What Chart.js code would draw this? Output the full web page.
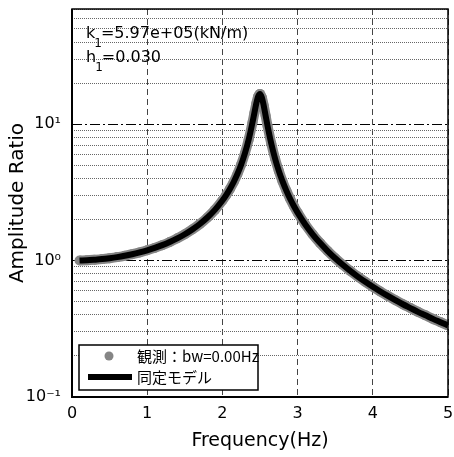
<!DOCTYPE html>
<html>
<head>
<meta charset="utf-8">
<script src="https://cdn.jsdelivr.net/npm/chart.js@4.4.1/dist/chart.umd.min.js"></script>
<style>
  html, body { margin: 0; padding: 0; background: #fff; }
  canvas { display: block; }
</style>
</head>
<body>
<canvas id="canvas" width="454" height="457"></canvas>
<script>
// frequency points (Hz), denser around the resonance
const freqHz = [
    0.1, 0.2, 0.3, 0.4, 0.5, 0.6, 0.7, 0.8, 0.9, 1.0,
    1.1, 1.2, 1.3, 1.4, 1.5, 1.6, 1.7, 1.8, 1.9, 2.0,
    2.05, 2.1, 2.15, 2.2, 2.25, 2.3, 2.35, 2.4, 2.425, 2.45, 2.475,
    2.5, 2.525, 2.55, 2.575, 2.6, 2.65, 2.7, 2.75, 2.8, 2.85, 2.9, 2.95, 3.0,
    3.1, 3.2, 3.3, 3.4, 3.5, 3.6, 3.7, 3.8, 3.9, 4.0,
    4.1, 4.2, 4.3, 4.4, 4.5, 4.6, 4.7, 4.8, 4.9, 5.0,
];
const ampObserved = [
    1.002, 1.006, 1.015, 1.026, 1.042, 1.061, 1.085, 1.114, 1.149, 1.19,
    1.24, 1.299, 1.371, 1.457, 1.561, 1.692, 1.856, 2.07, 2.356, 2.757,
    3.022, 3.352, 3.772, 4.322, 5.07, 6.136, 7.744, 10.3, 12.08, 14.13, 15.99,
    16.7, 15.69, 13.66, 11.55, 9.754, 7.209, 5.612, 4.553, 3.809, 3.262, 2.843, 2.514, 2.249,
    1.848, 1.56, 1.344, 1.176, 1.041, 0.932, 0.841, 0.764, 0.699, 0.643,
    0.594, 0.551, 0.513, 0.479, 0.449, 0.421, 0.397, 0.374, 0.354, 0.335,
];
// identified model lies on top of the observed curve
const ampModel = [
    1.002, 1.006, 1.015, 1.026, 1.042, 1.061, 1.085, 1.114, 1.149, 1.19,
    1.24, 1.299, 1.371, 1.457, 1.561, 1.692, 1.856, 2.07, 2.356, 2.757,
    3.022, 3.352, 3.772, 4.322, 5.07, 6.136, 7.744, 10.3, 12.08, 14.13, 15.99,
    16.7, 15.69, 13.66, 11.55, 9.754, 7.209, 5.612, 4.553, 3.809, 3.262, 2.843, 2.514, 2.249,
    1.848, 1.56, 1.344, 1.176, 1.041, 0.932, 0.841, 0.764, 0.699, 0.643,
    0.594, 0.551, 0.513, 0.479, 0.449, 0.421, 0.397, 0.374, 0.354, 0.335,
];

const yTickValues = [
    0.1, 0.2, 0.3, 0.4, 0.5, 0.6, 0.7, 0.8, 0.9,
    1, 2, 3, 4, 5, 6, 7, 8, 9,
    10, 20, 30, 40, 50, 60, 70,
];
const yTickLabels = { 0.1: '10⁻¹', 1: '10⁰', 10: '10¹' };
const yMajor = [0.1, 1, 10];

const legendLabels = ['観測：bw=0.00Hz', '同定モデル'];
const noteK = ['k', '1', '=5.97e+05(kN/m)'];
const noteH = ['h', '1', '=0.030'];

const fontLatin = '"DejaVu Sans", sans-serif';
const fontJp = '"Noto Sans CJK JP", "DejaVu Sans", sans-serif';
const gray = '#858585';

function isMajor(v) {
    return yMajor.indexOf(v) >= 0;
}

function drawNote(ctx, parts, x, y) {
    ctx.font = '16px ' + fontLatin;
    ctx.fillText(parts[0], x, y);
    let cx = x + ctx.measureText(parts[0]).width;
    ctx.font = '12px ' + fontLatin;
    ctx.fillText(parts[1], cx - 1, y + 9);
    cx += ctx.measureText(parts[1]).width - 2;
    ctx.font = '16px ' + fontLatin;
    ctx.fillText(parts[2], cx, y);
}

const overlay = {
    id: 'overlay',
    afterDatasetsDraw(chart) {
        const { ctx, chartArea: a } = chart;
        ctx.save();
        ctx.fillStyle = '#000';
        ctx.textBaseline = 'alphabetic';
        drawNote(ctx, noteK, a.left + 14, a.top + 29);
        drawNote(ctx, noteH, a.left + 14, a.top + 53);

        // legend box
        const bx = a.left + 7, by = a.bottom - 52, bw = 179, bh = 45;
        ctx.fillStyle = '#fff';
        ctx.fillRect(bx, by, bw, bh);
        ctx.lineWidth = 1.5;
        ctx.strokeStyle = '#000';
        ctx.strokeRect(bx, by, bw, bh);
        ctx.fillStyle = gray;
        ctx.beginPath();
        ctx.arc(bx + 30, by + 11, 4.5, 0, Math.PI * 2);
        ctx.fill();
        ctx.lineWidth = 6;
        ctx.beginPath();
        ctx.moveTo(bx + 9, by + 32);
        ctx.lineTo(bx + 53, by + 32);
        ctx.stroke();
        ctx.fillStyle = '#000';
        ctx.font = '15px ' + fontJp;
        ctx.textBaseline = 'middle';
        ctx.fillText(legendLabels[0], bx + 58, by + 11);
        ctx.fillText(legendLabels[1], bx + 58, by + 32);
        ctx.restore();
    },
    afterDraw(chart) {
        const { ctx, chartArea: a } = chart;
        ctx.save();
        ctx.strokeStyle = '#000';
        ctx.lineWidth = 1.5;
        ctx.strokeRect(a.left, a.top, a.right - a.left, a.bottom - a.top);
        ctx.lineWidth = 2;
        ctx.beginPath();
        ctx.moveTo(a.left, a.top);
        ctx.lineTo(a.left, a.bottom);
        ctx.lineTo(a.right, a.bottom);
        ctx.stroke();
        ctx.restore();
    },
};

Chart.defaults.font.family = fontLatin;
Chart.defaults.color = '#000';

new Chart('canvas', {
    type: 'line',
    data: {
        datasets: [
            {
                label: legendLabels[1],
                data: freqHz.map((f, i) => ({ x: f, y: ampModel[i] })),
                borderColor: '#000',
                borderWidth: 6,
                pointRadius: 0,
                borderJoinStyle: 'round',
                cubicInterpolationMode: 'monotone',
                order: 1,
            },
            {
                label: legendLabels[0],
                data: freqHz.map((f, i) => ({ x: f, y: ampObserved[i] })),
                borderColor: gray,
                borderWidth: 10,
                pointRadius: 5,
                pointBorderWidth: 0,
                pointBackgroundColor: gray,
                borderJoinStyle: 'round',
                cubicInterpolationMode: 'monotone',
                order: 2,
            },
        ],
    },
    options: {
        responsive: false,
        animation: false,
        devicePixelRatio: 1,
        layout: { padding: { top: 9, right: 6, left: 0, bottom: 0 } },
        plugins: {
            legend: { display: false },
            tooltip: { enabled: false },
        },
        scales: {
            x: {
                type: 'linear',
                min: 0,
                max: 5,
                ticks: { stepSize: 1, color: '#000', font: { size: 16 }, padding: 7 },
                grid: { color: '#444', lineWidth: 1, drawTicks: false },
                border: { display: false, dash: [6, 4] },
                title: {
                    display: true,
                    text: 'Frequency(Hz)',
                    color: '#000',
                    font: { size: 19 },
                    padding: { top: 5, bottom: 5 },
                },
                afterFit: (s) => {
                    s.height = 60;
                    s.paddingLeft = 0;
                    s.paddingRight = 0;
                },
            },
            y: {
                type: 'logarithmic',
                min: 0.1,
                max: 70,
                afterBuildTicks: (s) => { s.ticks = yTickValues.map((v) => ({ value: v })); },
                ticks: {
                    autoSkip: false,
                    color: '#000',
                    font: { size: 16 },
                    padding: 11,
                    callback: (v) => yTickLabels[v] || '',
                },
                grid: {
                    drawTicks: false,
                    lineWidth: 1,
                    color: (c) => (c.tick && isMajor(c.tick.value) ? '#000' : '#666'),
                },
                border: {
                    display: false,
                    dash: (c) => (c.tick && isMajor(c.tick.value) ? [10, 3, 2, 3] : [1, 1]),
                },
                title: {
                    display: true,
                    text: 'Amplitude Ratio',
                    color: '#000',
                    font: { size: 20 },
                    padding: { top: 6, bottom: 6 },
                },
                afterFit: (s) => {
                    s.width = 72;
                    s.paddingTop = 0;
                    s.paddingBottom = 0;
                },
            },
        },
    },
    plugins: [overlay],
});
</script>
</body>
</html>
